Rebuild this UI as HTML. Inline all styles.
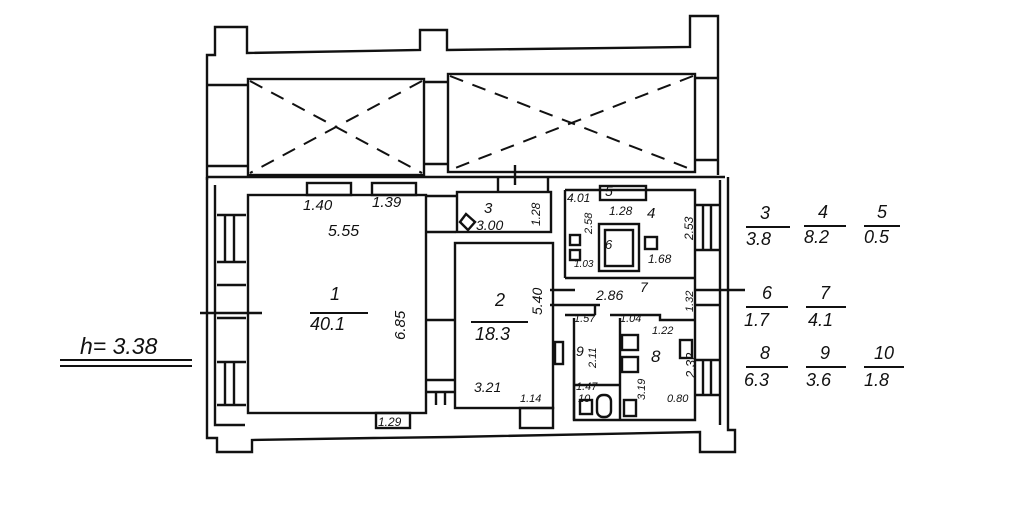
<!DOCTYPE html>
<html><head><meta charset="utf-8"><style>
html,body{margin:0;padding:0;background:#fff}
svg{display:block}
text{font-family:"Liberation Sans",sans-serif;font-style:italic;fill:#111}
</style></head><body>
<svg width="1024" height="513" viewBox="0 0 1024 513" xmlns="http://www.w3.org/2000/svg">
<g fill="none" stroke="#111" stroke-width="2.4">
<path d="M207 180 V55 H215 V27 H247 V53 L420 50 V30 H447 V50 L690 47 V16 H718 V175"/>
<path d="M207 85 H247 M207 166 H247 M423 82 H448 M423 164 H448 M695 78 H718 M695 160 H718"/>
<rect x="248" y="79" width="176" height="96"/>
<rect x="448" y="74" width="247" height="98"/>
<g stroke-dasharray="14 10" stroke-width="2">
<path d="M250 81 L422 173 M422 81 L250 173"/>
<path d="M450 76 L693 170 M693 76 L450 170"/>
</g>
<path d="M207 177 H725"/>
<path d="M207 177 V438 H217 V452 H252 V440 L374 438 L452 437 L700 432 V452 H735 V430 H728 V177"/>
<path d="M215 185 V425 H245"/>
<path d="M720 180 V425"/>
<rect x="248" y="195" width="178" height="218"/>
<rect x="307" y="183" width="44" height="12"/>
<rect x="372" y="183" width="44" height="12"/>
<rect x="376" y="413" width="34" height="15"/>
<path d="M217 215 H246 M217 262 H246 M225 215 V262 M234 215 V262"/>
<path d="M217 285 H246 M217 318 H246"/>
<path d="M217 362 H246 M217 405 H246 M225 362 V405 M234 362 V405"/>
<path d="M200 313 H262"/>
<path d="M426 196 H456 M426 232 H456 M426 320 H456 M426 380 H456 M426 392 H456"/>
<path d="M436 392 V405 M445 392 V405"/>
<rect x="457" y="192" width="94" height="40"/>
<rect x="455" y="243" width="98" height="165"/>
<path d="M498 177 V192 M548 177 V192 M515 165 V185"/>
<path d="M460 222 L466 214 L475 222 L468 230 Z"/>
<rect x="520" y="408" width="33" height="20"/>
<path d="M565 190 H695 V420 H574 V350"/>
<path d="M565 190 V278 M565 278 H695"/>
<rect x="600" y="186" width="46" height="14"/>
<rect x="599" y="224" width="40" height="47"/>
<rect x="605" y="230" width="28" height="36"/>
<path d="M565 315 H595 M595 315 V305 M610 315 H660 V320 H695"/>
<path d="M574 318 V420 M620 318 V420 M574 385 H620 M574 345 V350"/>
<path d="M550 290 H575 M550 305 H600"/>
<rect x="555" y="342" width="8" height="22"/>
<rect x="622" y="335" width="16" height="15"/>
<rect x="622" y="357" width="16" height="15"/>
<rect x="680" y="340" width="12" height="18"/>
<rect x="580" y="400" width="12" height="14"/>
<rect x="597" y="395" width="14" height="22" rx="6"/>
<rect x="624" y="400" width="12" height="16"/>
<rect x="570" y="235" width="10" height="10"/>
<rect x="570" y="250" width="10" height="10"/>
<rect x="645" y="237" width="12" height="12"/>
<path d="M695 205 H720 M695 250 H720 M703 205 V250 M711 205 V250"/>
<path d="M695 290 H745 M695 305 H720"/>
<path d="M695 360 H720 M695 395 H720 M703 360 V395 M711 360 V395"/>
</g>
<g font-size="15">
<text x="303" y="210">1.40</text><text x="372" y="207">1.39</text>
<text x="328" y="236" font-size="16">5.55</text>
<text x="330" y="300" font-size="18">1</text>
<text x="310" y="330" font-size="18">40.1</text>
<text x="405" y="340" font-size="15" transform="rotate(-90 405 340)">6.85</text>
<text x="378" y="426" font-size="12">1.29</text>
<text x="484" y="213" font-size="15">3</text>
<text x="476" y="230" font-size="14">3.00</text>
<text x="540" y="226" font-size="12" transform="rotate(-90 540 226)">1.28</text>
<text x="495" y="306" font-size="18">2</text>
<text x="475" y="340" font-size="18">18.3</text>
<text x="542" y="315" font-size="14" transform="rotate(-90 542 315)">5.40</text>
<text x="474" y="392" font-size="14">3.21</text>
<text x="520" y="402" font-size="11">1.14</text>
<text x="567" y="202" font-size="12">4.01</text>
<text x="605" y="196" font-size="14">5</text>
<text x="609" y="215" font-size="12">1.28</text>
<text x="647" y="218" font-size="15">4</text>
<text x="595" y="237" font-size="11" transform="rotate(-90 592 237)">2.58</text>
<text x="693" y="240" font-size="12" transform="rotate(-90 693 240)">2.53</text>
<text x="605" y="249" font-size="13">6</text>
<text x="574" y="267" font-size="10">1.03</text>
<text x="648" y="263" font-size="12">1.68</text>
<text x="596" y="300" font-size="14">2.86</text>
<text x="640" y="292" font-size="14">7</text>
<text x="693" y="312" font-size="11" transform="rotate(-90 693 312)">1.32</text>
<text x="574" y="322" font-size="11">1.57</text>
<text x="620" y="322" font-size="11">1.04</text>
<text x="652" y="334" font-size="11">1.22</text>
<text x="576" y="356" font-size="14">9</text>
<text x="596" y="368" font-size="11" transform="rotate(-90 596 368)">2.11</text>
<text x="651" y="362" font-size="17">8</text>
<text x="695" y="378" font-size="13" transform="rotate(-90 695 378)">2.32</text>
<text x="576" y="390" font-size="11">1.47</text>
<text x="578" y="402" font-size="11">10</text>
<text x="645" y="400" font-size="11" transform="rotate(-90 645 400)">3.19</text>
<text x="667" y="402" font-size="11">0.80</text>
</g>
<g font-size="18">
<text x="760" y="219">3</text><text x="746" y="245">3.8</text>
<text x="818" y="218">4</text><text x="804" y="243">8.2</text>
<text x="877" y="218">5</text><text x="864" y="243">0.5</text>
<text x="762" y="299">6</text><text x="744" y="326">1.7</text>
<text x="820" y="299">7</text><text x="808" y="326">4.1</text>
<text x="760" y="359">8</text><text x="744" y="386">6.3</text>
<text x="820" y="359">9</text><text x="806" y="386">3.6</text>
<text x="874" y="359">10</text><text x="864" y="386">1.8</text>
<text x="80" y="354" font-size="23">h= 3.38</text>
</g>
<g stroke="#111" stroke-width="2">
<path d="M746 227 H790 M804 226 H846 M864 226 H900 M746 307 H788 M806 307 H846 M746 367 H788 M806 367 H846 M864 367 H904"/>
<path d="M60 360 H192 M60 366 H192"/>
<path d="M310 313 H368 M471 322 H528"/>
</g>
</svg>
</body></html>
